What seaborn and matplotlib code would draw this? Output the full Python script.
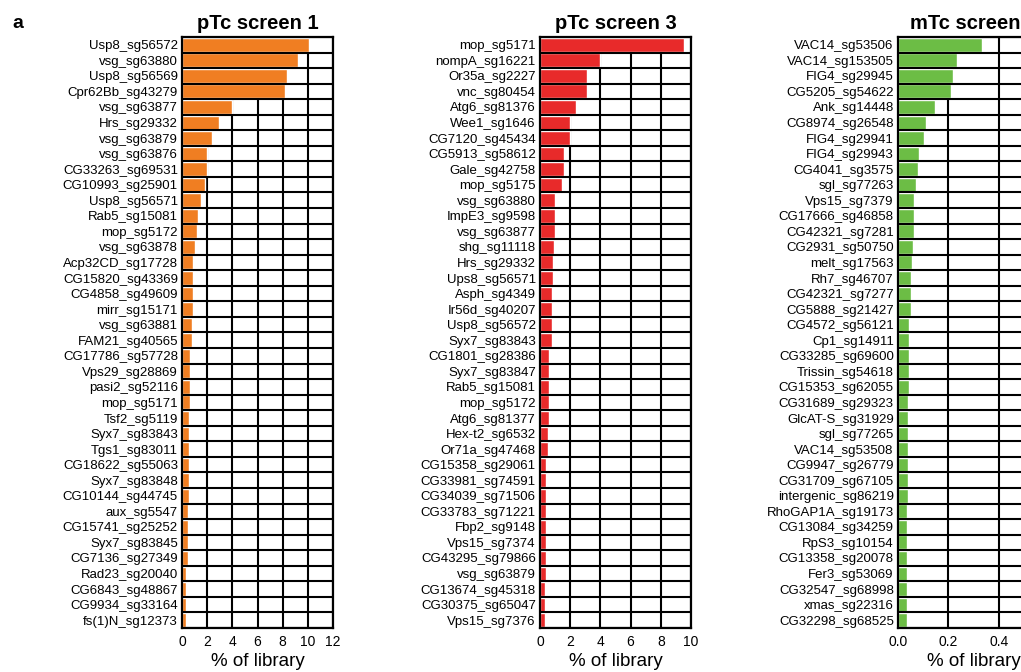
import numpy as np
import pandas as pd
import matplotlib
matplotlib.use("Agg")
import matplotlib.pyplot as plt
import seaborn as sns

sns.set_style("white")
plt.rcParams["font.family"] = ["Liberation Sans", "DejaVu Sans"]
plt.rcParams["text.color"] = "black"
plt.rcParams["axes.labelcolor"] = "black"
plt.rcParams["xtick.color"] = "black"
plt.rcParams["ytick.color"] = "black"

# pTc screen 1
ptc1_labels = [
    "Usp8_sg56572", "vsg_sg63880", "Usp8_sg56569", "Cpr62Bb_sg43279", "vsg_sg63877",
    "Hrs_sg29332", "vsg_sg63879", "vsg_sg63876", "CG33263_sg69531", "CG10993_sg25901",
    "Usp8_sg56571", "Rab5_sg15081", "mop_sg5172", "vsg_sg63878", "Acp32CD_sg17728",
    "CG15820_sg43369", "CG4858_sg49609", "mirr_sg15171", "vsg_sg63881", "FAM21_sg40565",
    "CG17786_sg57728", "Vps29_sg28869", "pasi2_sg52116", "mop_sg5171", "Tsf2_sg5119",
    "Syx7_sg83843", "Tgs1_sg83011", "CG18622_sg55063", "Syx7_sg83848", "CG10144_sg44745",
    "aux_sg5547", "CG15741_sg25252", "Syx7_sg83845", "CG7136_sg27349", "Rad23_sg20040",
    "CG6843_sg48867", "CG9934_sg33164", "fs(1)N_sg12373",
]
ptc1_values = [
    10.1, 9.2, 8.35, 8.15, 3.95, 2.95, 2.4, 2.0, 2.0, 1.8,
    1.5, 1.27, 1.16, 1.06, 0.88, 0.88, 0.88, 0.88, 0.78, 0.78,
    0.67, 0.67, 0.67, 0.67, 0.57, 0.57, 0.57, 0.57, 0.57, 0.57,
    0.46, 0.46, 0.46, 0.46, 0.35, 0.35, 0.35, 0.35,
]

# pTc screen 3
ptc3_labels = [
    "mop_sg5171", "nompA_sg16221", "Or35a_sg2227", "vnc_sg80454", "Atg6_sg81376",
    "Wee1_sg1646", "CG7120_sg45434", "CG5913_sg58612", "Gale_sg42758", "mop_sg5175",
    "vsg_sg63880", "ImpE3_sg9598", "vsg_sg63877", "shg_sg11118", "Hrs_sg29332",
    "Ups8_sg56571", "Asph_sg4349", "Ir56d_sg40207", "Usp8_sg56572", "Syx7_sg83843",
    "CG1801_sg28386", "Syx7_sg83847", "Rab5_sg15081", "mop_sg5172", "Atg6_sg81377",
    "Hex-t2_sg6532", "Or71a_sg47468", "CG15358_sg29061", "CG33981_sg74591", "CG34039_sg71506",
    "CG33783_sg71221", "Fbp2_sg9148", "Vps15_sg7374", "CG43295_sg79866", "vsg_sg63879",
    "CG13674_sg45318", "CG30375_sg65047", "Vps15_sg7376",
]
ptc3_values = [
    9.55, 3.97, 3.13, 3.13, 2.36, 1.99, 1.99, 1.61, 1.61, 1.43,
    1.02, 1.02, 1.02, 0.93, 0.84, 0.84, 0.77, 0.77, 0.77, 0.77,
    0.6, 0.6, 0.6, 0.6, 0.6, 0.51, 0.51, 0.42, 0.42, 0.42,
    0.42, 0.42, 0.42, 0.42, 0.42, 0.33, 0.33, 0.33,
]

# mTc screen (panel runs off the right edge in the original)
mtc_labels = [
    "VAC14_sg53506", "VAC14_sg153505", "FIG4_sg29945", "CG5205_sg54622", "Ank_sg14448",
    "CG8974_sg26548", "FIG4_sg29941", "FIG4_sg29943", "CG4041_sg3575", "sgl_sg77263",
    "Vps15_sg7379", "CG17666_sg46858", "CG42321_sg7281", "CG2931_sg50750", "melt_sg17563",
    "Rh7_sg46707", "CG42321_sg7277", "CG5888_sg21427", "CG4572_sg56121", "Cp1_sg14911",
    "CG33285_sg69600", "Trissin_sg54618", "CG15353_sg62055", "CG31689_sg29323", "GlcAT-S_sg31929",
    "sgl_sg77265", "VAC14_sg53508", "CG9947_sg26779", "CG31709_sg67105", "intergenic_sg86219",
    "RhoGAP1A_sg19173", "CG13084_sg34259", "RpS3_sg10154", "CG13358_sg20078", "Fer3_sg53069",
    "CG32547_sg68998", "xmas_sg22316", "CG32298_sg68525",
]
mtc_values = [
    0.333, 0.233, 0.217, 0.209, 0.149, 0.111, 0.105, 0.085, 0.080, 0.071,
    0.065, 0.065, 0.065, 0.060, 0.056, 0.051, 0.051, 0.051, 0.045, 0.045,
    0.045, 0.045, 0.045, 0.040, 0.040, 0.040, 0.040, 0.040, 0.040, 0.040,
    0.035, 0.035, 0.035, 0.035, 0.035, 0.035, 0.035, 0.035,
]

panels = [
    ("pTc screen 1", ptc1_labels, ptc1_values, "#F07E22", 12, [0, 2, 4, 6, 8, 10, 12], "{:g}", 0.1783),
    ("pTc screen 3", ptc3_labels, ptc3_values, "#E82A2A", 10, [0, 2, 4, 6, 8, 10], "{:g}", 0.5289),
    ("mTc screen 1", mtc_labels, mtc_values, "#6CBD45", 0.6, [0.0, 0.2, 0.4, 0.6], "{:.1f}", 0.8795),
]

fig = plt.figure(figsize=(10.21, 6.72), dpi=100)

for title, labels, values, color, xmax, xticks, fmt, left in panels:
    ax = fig.add_axes([left, 0.0655, 0.1479, 0.8795])
    df = pd.DataFrame({"guide": labels, "pct": values})
    sns.barplot(data=df, x="pct", y="guide", orient="h", color=color,
                saturation=1, width=0.9, ax=ax, zorder=2)
    n = len(labels)
    ax.set_xlim(0, xmax)
    ax.set_ylim(n - 0.5, -0.5)
    ax.set_xticks(xticks)
    ax.set_xticklabels([fmt.format(t) for t in xticks], fontsize=10)
    ax.tick_params(axis="y", length=0, pad=3, labelsize=9.5)
    ax.tick_params(axis="x", length=3, width=1.5, pad=2, color="black")

    # vertical grid under the bars, row separators on top
    ax.set_axisbelow(True)
    ax.xaxis.grid(True, color="black", linewidth=1.5)
    for yb in np.arange(-0.5, n, 1):
        ax.axhline(yb, color="black", linewidth=1.5, zorder=3)
    for sp in ax.spines.values():
        sp.set_color("black")
        sp.set_linewidth(1.6)
        sp.set_zorder(4)

    ax.set_ylabel("")
    ax.set_xlabel("% of library", fontsize=13.5, labelpad=3)
    ax.set_title(title, fontsize=14.5, fontweight="bold", pad=6)

fig.text(0.012, 0.978, "a", fontsize=14, fontweight="bold", va="top")

plt.savefig("out.png", dpi=100)
plt.close()
